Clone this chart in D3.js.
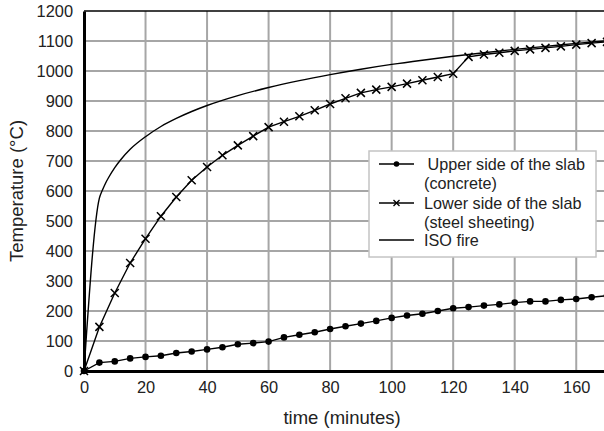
<!DOCTYPE html>
<html>
<head>
<meta charset="utf-8">
<script src="https://cdn.jsdelivr.net/npm/d3@7"></script>
<style>
  body { margin: 0; background: #fff; }
  svg { display: block; font-family: "Liberation Sans", Arial, Helvetica, sans-serif; }
</style>
</head>
<body>
<svg id="chart" width="604" height="431"></svg>
<script>
// measured temperatures, every 5 minutes
let timeMin = d3.range(0, 171, 5);
let concreteTemp = [0, 28, 32, 42, 47, 51, 60, 65, 72, 79, 89, 93, 98, 112, 121, 129, 140, 149, 158, 167,
  177, 185, 191, 200, 209, 213, 218, 222, 228, 232, 232, 237, 240, 246, 251];
let steelTemp = [0, 147, 260, 360, 441, 516, 580, 636, 680, 719, 752, 783, 813, 831, 849, 869, 890, 909, 927, 938,
  947, 958, 969, 980, 991, 1047, 1055, 1061, 1067, 1072, 1077, 1082, 1088, 1093, 1097];

// ISO fire curve
let isoTime = [0, 5, 6, 7, 8, 10, 12, 15, 20, 25, 30, 35, 40, 50, 60, 70, 80, 90, 100, 110, 120, 130, 140, 150, 160, 170];
let isoTemp = [0, 576, 603, 626, 645, 678, 705, 739, 781, 815, 842, 865, 885, 918, 945, 968, 988, 1006, 1022, 1036,
  1049, 1061, 1072, 1082, 1092, 1101];

let xTicks = d3.range(0, 161, 20);
let yTicks = d3.range(0, 1201, 100);
let legendLabels = [
  ['Upper side of the slab', '(concrete)'],
  ['Lower side of the slab', '(steel sheeting)'],
  ['ISO fire']
];

let margin = {left: 84, top: 11};
let plotW = 523, plotH = 360;

let svg = d3.select('#chart');

let x = d3.scaleLinear().domain([0, 170]).range([margin.left, margin.left + plotW]);
let y = d3.scaleLinear().domain([0, 1200]).range([margin.top + plotH, margin.top]);

// grid
let grid = svg.append('g').attr('class', 'grid');
grid.selectAll('line.v')
  .data(xTicks.filter(d => d > 0))
  .enter().append('line')
  .attr('x1', d => x(d)).attr('x2', d => x(d))
  .attr('y1', y(0)).attr('y2', y(1200))
  .style('stroke', '#a6a6a6').style('stroke-width', '2px');
grid.selectAll('line.h')
  .data(yTicks.filter(d => d > 0 && d < 1200))
  .enter().append('line')
  .attr('x1', x(0)).attr('x2', x(170))
  .attr('y1', d => y(d)).attr('y2', d => y(d))
  .style('stroke', '#a6a6a6').style('stroke-width', '2px');

// top border
svg.append('line')
  .attr('x1', x(0)).attr('x2', x(170))
  .attr('y1', y(1200)).attr('y2', y(1200))
  .style('stroke', '#000').style('stroke-width', '1.6px');

// axes
let xAxis = svg.append('g')
  .attr('transform', `translate(0, ${y(0)})`)
  .call(d3.axisBottom(x).tickValues(xTicks).tickFormat(d3.format('d')).tickSize(0).tickPadding(10));
let yAxis = svg.append('g')
  .attr('transform', `translate(${x(0)}, 0)`)
  .call(d3.axisLeft(y).tickValues(yTicks).tickFormat(d3.format('d')).tickSize(0).tickPadding(11));

[xAxis, yAxis].forEach(a => {
  a.select('.domain').style('stroke', '#000').style('stroke-width', '3px');
  a.selectAll('text')
    .style('font-family', '"Liberation Sans", Arial, sans-serif')
    .style('font-size', '16.4px')
    .style('fill', '#222');
});
xAxis.selectAll('text').attr('dy', '0.71em');
yAxis.selectAll('text').attr('dy', '0.35em');

svg.append('text')
  .attr('x', 342).attr('y', 418)
  .attr('dy', '0.35em')
  .style('text-anchor', 'middle')
  .style('font-size', '18.5px')
  .style('fill', '#222')
  .text('time (minutes)');

svg.append('text')
  .attr('transform', `translate(17, ${(y(0) + y(1200)) / 2}) rotate(-90)`)
  .attr('dy', '0.35em')
  .style('text-anchor', 'middle')
  .style('font-size', '18.5px')
  .style('fill', '#222')
  .text('Temperature (°C)');

// series
let lineGen = d3.line().x(d => x(d[0])).y(d => y(d[1]));
let isoLine = d3.line().x(d => x(d[0])).y(d => y(d[1])).curve(d3.curveMonotoneX);

let concreteData = timeMin.map((t, i) => [t, concreteTemp[i]]);
let steelData = timeMin.map((t, i) => [t, steelTemp[i]]);
let isoData = isoTime.map((t, i) => [t, isoTemp[i]]);

let series = svg.append('g').attr('class', 'series');

series.append('path')
  .attr('d', isoLine(isoData))
  .style('fill', 'none').style('stroke', '#000').style('stroke-width', '1.4px');

series.append('path')
  .attr('d', lineGen(steelData))
  .style('fill', 'none').style('stroke', '#000').style('stroke-width', '1.4px');

series.append('path')
  .attr('d', lineGen(concreteData))
  .style('fill', 'none').style('stroke', '#000').style('stroke-width', '1.4px');

let crossPath = s => `M${-s},${-s}L${s},${s}M${-s},${s}L${s},${-s}`;

series.selectAll('path.cross')
  .data(steelData)
  .enter().append('path')
  .attr('class', 'cross')
  .attr('transform', d => `translate(${x(d[0])}, ${y(d[1])})`)
  .attr('d', crossPath(4))
  .style('stroke', '#000').style('stroke-width', '1.5px');

series.selectAll('circle.dot')
  .data(concreteData)
  .enter().append('circle')
  .attr('class', 'dot')
  .attr('cx', d => x(d[0])).attr('cy', d => y(d[1]))
  .attr('r', 3.3)
  .style('fill', '#000');

// legend
let legend = svg.append('g').attr('class', 'legend').attr('transform', 'translate(369, 151)');
legend.append('rect')
  .attr('width', 227).attr('height', 106)
  .style('fill', '#fff').style('stroke', '#c4c4c4').style('stroke-width', '1.5px');

let rowY = [13, 52, 89];
legendLabels.forEach((lines, i) => {
  let g = legend.append('g').attr('transform', `translate(0, ${rowY[i]})`);
  g.append('line')
    .attr('x1', 10).attr('x2', 45)
    .style('stroke', '#000').style('stroke-width', '1.4px');
  if (i === 0) {
    g.append('circle').attr('cx', 27.5).attr('r', 2.8).style('fill', '#000');
  } else if (i === 1) {
    g.append('path').attr('transform', 'translate(27.5, 0)').attr('d', crossPath(3))
      .style('stroke', '#000').style('stroke-width', '1.3px');
  }
  lines.forEach((t, j) => {
    g.append('text')
      .attr('x', i === 0 && j === 0 ? 58.5 : 55)
      .attr('y', j * 19)
      .attr('dy', '0.35em')
      .style('font-size', '16.2px')
      .style('fill', '#222')
      .text(t);
  });
});
</script>
</body>
</html>
